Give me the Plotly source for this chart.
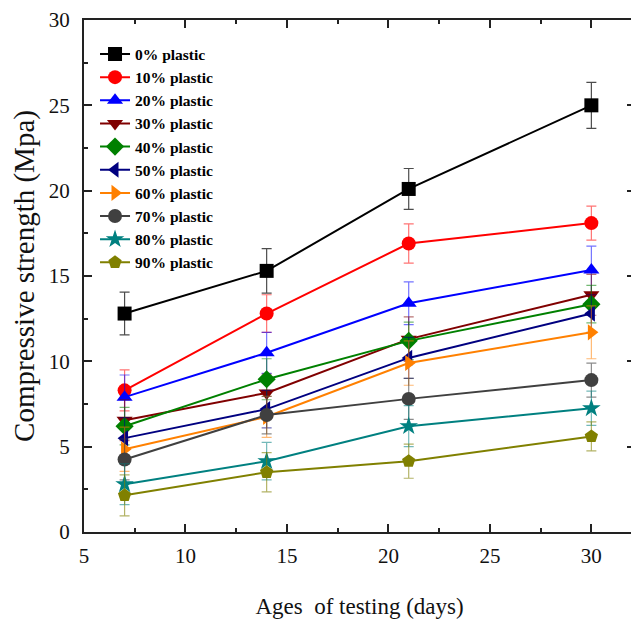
import plotly.graph_objects as go

ages = [7, 14, 21, 30]
series_names = ["0% plastic", "10% plastic", "20% plastic", "30% plastic", "40% plastic",
                "50% plastic", "60% plastic", "70% plastic", "80% plastic", "90% plastic"]

s0 = [12.8, 15.3, 20.1, 25.0]
s10 = [8.3, 12.8, 16.9, 18.1]
s20 = [7.9, 10.5, 13.4, 15.35]
s30 = [6.55, 8.15, 11.3, 13.9]
s40 = [6.2, 8.95, 11.2, 13.35]
s50 = [5.5, 7.2, 10.2, 12.8]
s60 = [4.85, 6.75, 9.9, 11.7]
s70 = [4.25, 6.85, 7.8, 8.9]
s80 = [2.8, 4.15, 6.2, 7.25]
s90 = [2.15, 3.5, 4.15, 5.6]

e0 = [1.25, 1.3, 1.2, 1.35]
e10 = [1.2, 1.1, 1.15, 1.0]
e20 = [1.3, 1.2, 1.25, 1.4]
e30 = [1.2, 1.1, 1.3, 1.2]
e40 = [1.1, 1.2, 1.1, 1.1]
e50 = [1.2, 1.1, 1.2, 1.1]
e60 = [1.3, 1.2, 1.3, 1.55]
e70 = [1.2, 1.1, 1.2, 1.0]
e80 = [1.2, 1.1, 1.2, 1.0]
e90 = [1.2, 1.15, 1.0, 0.85]

values = [s0, s10, s20, s30, s40, s50, s60, s70, s80, s90]
errors = [e0, e10, e20, e30, e40, e50, e60, e70, e80, e90]
colors = ["#000000", "#FF0000", "#0000FF", "#800000", "#008000",
          "#000080", "#FF8000", "#404040", "#008080", "#808000"]
err_colors = ["rgba(0,0,0,0.7)", "rgba(255,0,0,0.55)", "rgba(0,0,255,0.55)", "rgba(128,0,0,0.55)",
              "rgba(0,128,0,0.55)", "rgba(0,0,128,0.55)", "rgba(255,128,0,0.55)",
              "rgba(64,64,64,0.6)", "rgba(0,128,128,0.55)", "rgba(128,128,0,0.6)"]
symbols = ["square", "circle", "triangle-up", "triangle-down", "diamond",
           "triangle-left", "triangle-right", "circle", "star", "pentagon"]

fig = go.Figure()
for name, v, e, c, ec, s in zip(series_names, values, errors, colors, err_colors, symbols):
    fig.add_trace(go.Scatter(
        x=ages, y=v, name=name, mode="lines+markers",
        line=dict(color=c, width=2),
        marker=dict(symbol=s, size=14, color=c),
        error_y=dict(type="data", array=e, visible=True, color=ec, thickness=1.2, width=5),
    ))

font_family = "Liberation Serif, Times New Roman, serif"
fig.update_layout(
    width=639, height=625,
    margin=dict(l=76, r=12, t=12, b=101, autoexpand=False),
    paper_bgcolor="white", plot_bgcolor="white",
    font=dict(family=font_family, size=21, color="#111"),
    showlegend=True,
    legend=dict(x=0.02, y=0.966, xanchor="left", yanchor="top",
                font=dict(family=font_family, size=15.5, color="#000", weight="bold"),
                bgcolor="rgba(0,0,0,0)", tracegroupgap=0),
)
axis_common = dict(
    showline=True, linecolor="#222", linewidth=2, mirror="ticks",
    ticks="inside", ticklen=8, tickwidth=1.5, tickcolor="#222",
    showgrid=False, zeroline=False, automargin=False,
    minor=dict(ticks="inside", ticklen=4, tickwidth=1.5, tickcolor="#222", showgrid=False),
)
fig.update_xaxes(range=[5, 32.15], tick0=5, dtick=5, **axis_common,
                 minor_dtick=2.5, ticklabelstandoff=4,
                 title=dict(text="Ages  of testing (days)", font=dict(size=23), standoff=31))
fig.update_yaxes(range=[0, 30], tick0=0, dtick=5, **axis_common,
                 minor_dtick=2.5, ticklabelstandoff=8,
                 title=dict(text="Compressive strength (Mpa)", font=dict(size=29), standoff=8))

fig.write_html("out.html")
